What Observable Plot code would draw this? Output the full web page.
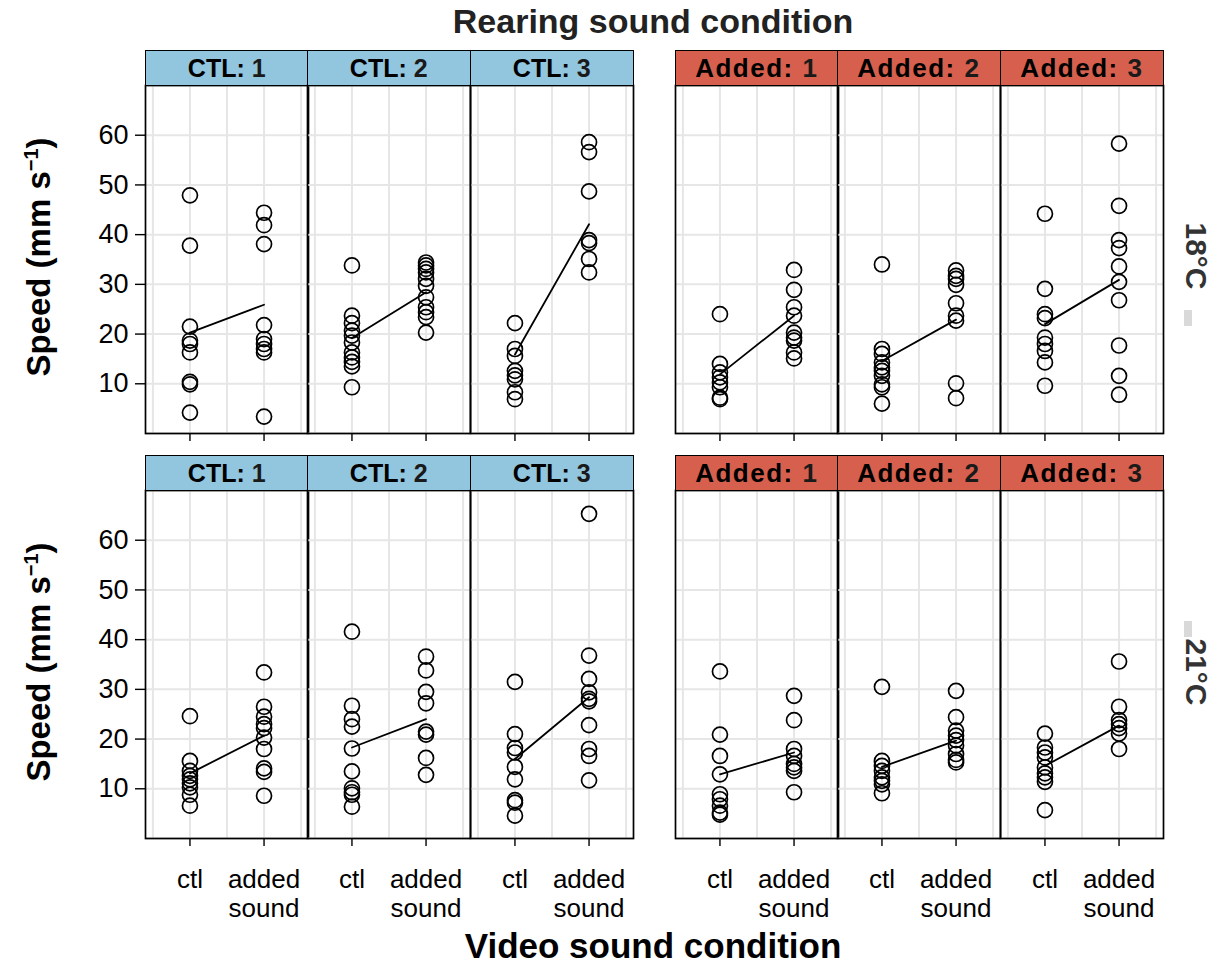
<!DOCTYPE html>
<html>
<head>
<meta charset="utf-8">
<script src="https://cdn.jsdelivr.net/npm/d3@7"></script>
<script src="https://cdn.jsdelivr.net/npm/@observablehq/plot@0.6"></script>
<style>
  html, body { margin: 0; padding: 0; background: #fff; }
  #chart { position: relative; width: 1219px; height: 967px; font-family: "Liberation Sans", Arial, Helvetica, sans-serif; }
  .abs { position: absolute; }
  .strip { position: absolute; box-sizing: border-box; border: 1.5px solid #000; font-weight: bold; font-size: 25px; display: flex; align-items: center; justify-content: center; color: #000; white-space: nowrap; }
  .title { position: absolute; font-weight: bold; font-size: 34px; color: #222; white-space: nowrap; line-height: 1; }
  .ylab { position: absolute; font-weight: bold; font-size: 33px; color: #000; white-space: nowrap; transform: translate(-50%, -50%) rotate(-90deg); line-height: 1; }
  .ylab sup { font-size: 20px; }
  .rlab { position: absolute; font-weight: bold; font-size: 30px; color: #333; white-space: nowrap; transform: translate(-50%, -50%) rotate(90deg); line-height: 1; }
</style>
</head>
<body>
<div id="chart"></div>
<script>
// ---- data ----
const rearing = ["CTL: 1", "CTL: 2", "CTL: 3", "Added: 1", "Added: 2", "Added: 3"];
const rearingGroup = ["CTL", "CTL", "CTL", "Added", "Added", "Added"];
const temps = ["18°C", "21°C"];
const videoLevels = ["ctl", "added\nsound"];
const yTicks = [10, 20, 30, 40, 50, 60];

// 18°C, video = ctl, one array per rearing panel
const speed18Ctl = [
  [47.9, 37.8, 21.5, 18.7, 18.0, 16.3, 10.4, 9.9, 4.2],
  [33.8, 23.7, 22.2, 20.7, 19.7, 18.3, 16.3, 15.3, 14.4, 13.5, 9.3],
  [22.2, 17.0, 15.6, 12.6, 11.7, 10.9, 8.3, 6.9],
  [24.0, 14.0, 12.3, 11.3, 10.3, 9.3, 7.2, 6.9],
  [34.0, 17.0, 16.0, 14.3, 13.3, 12.6, 11.6, 9.9, 9.3, 6.0],
  [44.2, 29.1, 24.0, 23.2, 19.3, 18.0, 16.6, 14.3, 9.6]
];
// 18°C, video = added sound
const speed18Add = [
  [44.4, 41.9, 38.1, 21.8, 19.0, 18.0, 17.0, 16.3, 3.4],
  [34.4, 33.8, 33.1, 32.4, 31.1, 29.7, 27.4, 25.4, 24.4, 23.4, 20.3],
  [58.6, 56.6, 48.7, 38.9, 38.3, 35.1, 32.4],
  [32.9, 28.9, 25.4, 23.7, 20.3, 19.3, 18.7, 16.3, 15.1],
  [32.8, 31.7, 31.1, 29.9, 26.2, 23.7, 22.7, 10.1, 7.1],
  [58.3, 45.8, 38.9, 37.3, 33.6, 30.5, 26.8, 17.7, 11.6, 7.8]
];
// 21°C, video = ctl
const speed21Ctl = [
  [24.6, 15.6, 13.6, 12.6, 11.9, 11.1, 10.3, 8.8, 6.6],
  [41.6, 26.7, 24.0, 22.5, 18.1, 13.5, 10.1, 9.3, 8.8, 6.4],
  [31.5, 21.0, 18.2, 17.3, 14.4, 11.9, 7.7, 7.2, 4.6],
  [33.6, 20.9, 16.6, 12.9, 8.9, 7.9, 6.6, 5.2, 4.8],
  [30.5, 15.6, 14.6, 13.6, 12.3, 11.6, 10.9, 9.1],
  [21.1, 18.3, 17.3, 16.3, 14.3, 13.1, 12.3, 11.4, 5.7]
];
// 21°C, video = added sound
const speed21Add = [
  [33.4, 26.5, 24.5, 23.0, 22.2, 20.3, 18.0, 14.1, 13.4, 8.6],
  [36.6, 33.8, 29.5, 27.2, 21.5, 20.9, 16.2, 12.8],
  [65.3, 36.8, 32.1, 29.4, 28.1, 27.6, 22.8, 18.0, 16.6, 11.7],
  [28.7, 23.8, 18.0, 16.6, 15.0, 14.3, 13.6, 9.3],
  [29.7, 24.4, 21.7, 20.7, 19.8, 18.7, 17.0, 15.8, 15.3],
  [35.6, 26.5, 23.8, 23.0, 22.2, 21.1, 18.0]
];
// fitted means (line ends)
const mean18Ctl = [20.3, 19.2, 15.9, 11.9, 14.6, 22.0];
const mean18Add = [25.9, 28.4, 42.1, 23.7, 22.9, 30.9];
const mean21Ctl = [13.1, 18.3, 16.0, 12.9, 14.4, 14.6];
const mean21Add = [20.7, 24.0, 28.4, 17.3, 19.7, 22.7];

// ---- layout ----
const chart = document.getElementById("chart");
const panelLefts = [145, 307, 470, 675, 837, 1000];
const panelW = 163;
const rowTops = [85, 490];
const panelH = 348;
const stripH = 35;
const FONT = '"Liberation Sans", Arial, Helvetica, sans-serif';

const ctlData = [speed18Ctl, speed21Ctl];
const addData = [speed18Add, speed21Add];
const ctlMeans = [mean18Ctl, mean21Ctl];
const addMeans = [mean18Add, mean21Add];

function addDiv(cls, html, style) {
  const d = document.createElement("div");
  d.className = cls;
  d.innerHTML = html;
  Object.assign(d.style, style);
  chart.appendChild(d);
  return d;
}

for (let r = 0; r < 2; r++) {
  for (let c = 0; c < 6; c++) {
    const pts = [
      ...ctlData[r][c].map(v => ({video: 1, speed: v})),
      ...addData[r][c].map(v => ({video: 2, speed: v}))
    ];
    const means = [{video: 1, speed: ctlMeans[r][c]}, {video: 2, speed: addMeans[r][c]}];
    const ml = c === 0 ? 90 : 1;
    const mb = r === 1 ? 100 : 12;
    const mt = 1, mr = 1;
    const marks = [
      Plot.gridX([0.5, 1, 1.5, 2, 2.5], {stroke: "#e6e6e6", strokeOpacity: 1, strokeWidth: 2}),
      Plot.gridY([0, 10, 20, 30, 40, 50, 60, 70], {stroke: "#e6e6e6", strokeOpacity: 1, strokeWidth: 2}),
      Plot.line(means, {x: "video", y: "speed", stroke: "#000", strokeWidth: 1.8}),
      Plot.dot(pts, {x: "video", y: "speed", r: 7.5, stroke: "#000", strokeWidth: 1.7, fill: "none"}),
      Plot.axisX([1, 2], {
        tickSize: 8, tickPadding: 21, stroke: "#000", strokeWidth: 1.4,
        tickFormat: r === 1 ? (d => videoLevels[d - 1]) : (() => ""),
        fontSize: 26, lineHeight: 1.12, fill: "#000", label: null
      }),
      Plot.frame({stroke: "#000", strokeWidth: 1.7})
    ];
    if (c === 0) {
      marks.push(Plot.axisY(yTicks, {
        tickSize: 10, tickPadding: 7, stroke: "#000", strokeWidth: 1.4,
        fontSize: 27, fill: "#000", label: null
      }));
    }
    const svg = Plot.plot({
      width: panelW + ml + mr,
      height: panelH + mt + mb,
      marginLeft: ml, marginRight: mr, marginTop: mt, marginBottom: mb,
      x: {domain: [0.4, 2.6], axis: null},
      y: {domain: [0, 70], axis: c === 0 ? undefined : null},
      style: {fontFamily: FONT, fontSize: "27px", background: "transparent", overflow: "visible", color: "#000"},
      marks
    });
    svg.style.position = "absolute";
    svg.style.left = (panelLefts[c] - ml) + "px";
    svg.style.top = (rowTops[r] - mt) + "px";
    chart.appendChild(svg);

    // strip
    const [lab, num] = rearing[c].split(": ");
    const isCtl = rearingGroup[c] === "CTL";
    addDiv("strip", `${lab}:&nbsp;<span style="color:#1a1a1a">${num}</span>`, {
      left: panelLefts[c] + "px",
      top: (rowTops[r] - stripH) + "px",
      width: (panelW + 0.5) + "px",
      height: (stripH + 1) + "px",
      background: isCtl ? "#92c5de" : "#d6604d",
      letterSpacing: isCtl ? "0px" : "1.5px",
      fontSize: isCtl ? "25px" : "26px"
    });
  }
  // y axis title
  addDiv("ylab", "Speed (mm s<sup>−1</sup>)", {left: "38px", top: (rowTops[r] + panelH / 2 - 2) + "px"});
}
// right strip labels
addDiv("rlab", temps[0], {left: "1196px", top: "256px"});
addDiv("rlab", temps[1], {left: "1196px", top: "672px"});
// small grey strip indicators on the right
addDiv("abs", "", {left: "1184px", top: "310px", width: "8px", height: "16px", background: "#d9d9d9"});
addDiv("abs", "", {left: "1184px", top: "621px", width: "8px", height: "16px", background: "#d9d9d9"});

// titles
addDiv("title", "Rearing sound condition", {left: "653px", top: "4px", transform: "translateX(-50%)"});
addDiv("title", "Video sound condition", {left: "653px", top: "928px", transform: "translateX(-50%)", fontSize: "35px", color: "#000"});
</script>
</body>
</html>
